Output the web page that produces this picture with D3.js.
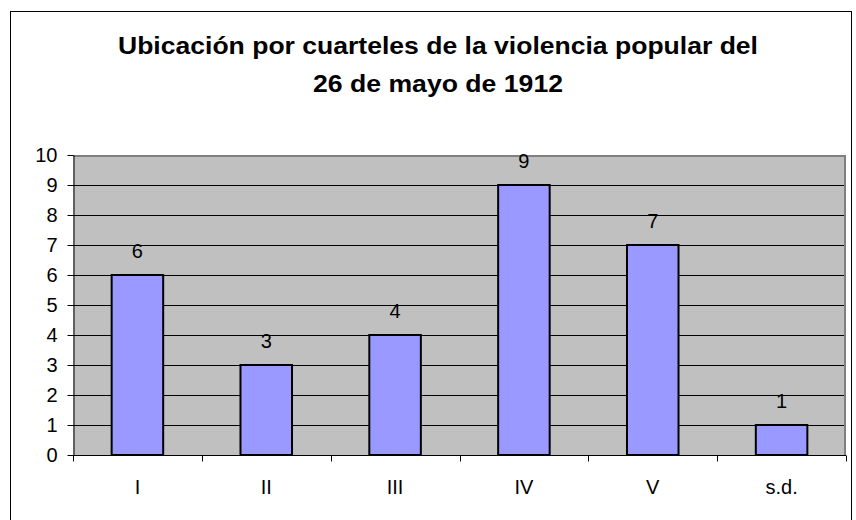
<!DOCTYPE html>
<html>
<head>
<meta charset="utf-8">
<script src="https://cdn.jsdelivr.net/npm/d3@7"></script>
<style>
  body { margin: 0; background: #fff; }
  svg { display: block; font-family: Arial, "Liberation Sans", sans-serif; }
</style>
</head>
<body>
<svg id="chart" width="856" height="520"></svg>
<script>
// data
var categories = ["I", "II", "III", "IV", "V", "s.d."];
var values = [6, 3, 4, 9, 7, 1];
var yTicks = [0, 1, 2, 3, 4, 5, 6, 7, 8, 9, 10];
var titleLines = ["Ubicación por cuarteles de la violencia popular del", "26 de mayo de 1912"];
var titleWidths = [640, 250];

var svg = d3.select("#chart");
var plot = { left: 73, top: 155, right: 846, bottom: 455 };

// outer frame
svg.append("rect")
  .attr("x", 10.5).attr("y", 11.5)
  .attr("width", 841).attr("height", 520)
  .attr("fill", "#fff").attr("stroke", "#000").attr("stroke-width", 1);

// title
svg.append("g").selectAll("text")
  .data(titleLines)
  .enter().append("text")
  .attr("x", 438)
  .attr("y", function (d, i) { return 54 + i * 38; })
  .attr("text-anchor", "middle")
  .attr("font-size", "24px")
  .attr("font-weight", "bold")
  .attr("textLength", function (d, i) { return titleWidths[i]; })
  .attr("lengthAdjust", "spacingAndGlyphs")
  .text(function (d) { return d; });

var x = d3.scaleBand()
  .domain(categories)
  .range([plot.left, plot.right])
  .paddingInner(0.6)
  .paddingOuter(0.3);

var xBand = d3.scaleBand()
  .domain(categories)
  .range([plot.left, plot.right]);

var y = d3.scaleLinear()
  .domain([0, 10])
  .range([plot.bottom, plot.top]);

// plot area
svg.append("rect")
  .attr("x", plot.left).attr("y", plot.top)
  .attr("width", plot.right - plot.left).attr("height", plot.bottom - plot.top)
  .attr("fill", "#c0c0c0");

// gridlines
svg.append("g").selectAll("line")
  .data(yTicks.slice(1, -1))
  .enter().append("line")
  .attr("x1", plot.left).attr("x2", plot.right)
  .attr("y1", function (d) { return Math.round(y(d)) + 0.5; })
  .attr("y2", function (d) { return Math.round(y(d)) + 0.5; })
  .attr("stroke", "#000").attr("stroke-width", 1);

// plot border top/right (gray)
svg.append("path")
  .attr("d", "M" + plot.left + "," + (plot.top + 1) + "H" + (plot.right - 1) + "V" + plot.bottom)
  .attr("fill", "none").attr("stroke", "#808080").attr("stroke-width", 2);

// bars
svg.append("g").selectAll("rect")
  .data(values)
  .enter().append("rect")
  .attr("x", function (d, i) { return x(categories[i]); })
  .attr("y", function (d) { return y(d); })
  .attr("width", x.bandwidth())
  .attr("height", function (d) { return y(0) - y(d); })
  .attr("fill", "#9999ff")
  .attr("stroke", "#000").attr("stroke-width", 2);

// value labels
svg.append("g").selectAll("text")
  .data(values)
  .enter().append("text")
  .attr("x", function (d, i) { return x(categories[i]) + x.bandwidth() / 2; })
  .attr("y", function (d) { return y(d) - 17; })
  .attr("text-anchor", "middle")
  .attr("font-size", "20px")
  .attr("fill", "#000")
  .text(function (d) { return d; });

// y axis
var yAxis = svg.append("g")
  .attr("transform", "translate(" + (plot.left + 0.5) + ",0)")
  .call(d3.axisLeft(y).tickValues(yTicks).tickSize(6).tickPadding(10).tickSizeOuter(0));
yAxis.select(".domain").attr("stroke", "#000");
yAxis.selectAll("text").attr("font-size", "20px").attr("font-family", "Arial, 'Liberation Sans', sans-serif").attr("fill", "#000");

// x axis
var xAxisG = svg.append("g")
  .attr("transform", "translate(0," + (plot.bottom + 0.5) + ")");
xAxisG.append("line")
  .attr("x1", plot.left).attr("x2", plot.right)
  .attr("stroke", "#000");
xAxisG.selectAll(".tick")
  .data(categories.concat(["end"]))
  .enter().append("line")
  .attr("x1", function (d, i) { return Math.round(plot.left + i * xBand.step()) + 0.5; })
  .attr("x2", function (d, i) { return Math.round(plot.left + i * xBand.step()) + 0.5; })
  .attr("y1", 0).attr("y2", 6)
  .attr("stroke", "#000");
xAxisG.selectAll("text")
  .data(categories)
  .enter().append("text")
  .attr("x", function (d) { return xBand(d) + xBand.bandwidth() / 2; })
  .attr("y", 38)
  .attr("text-anchor", "middle")
  .attr("font-size", "20px")
  .text(function (d) { return d; });
</script>
</body>
</html>
